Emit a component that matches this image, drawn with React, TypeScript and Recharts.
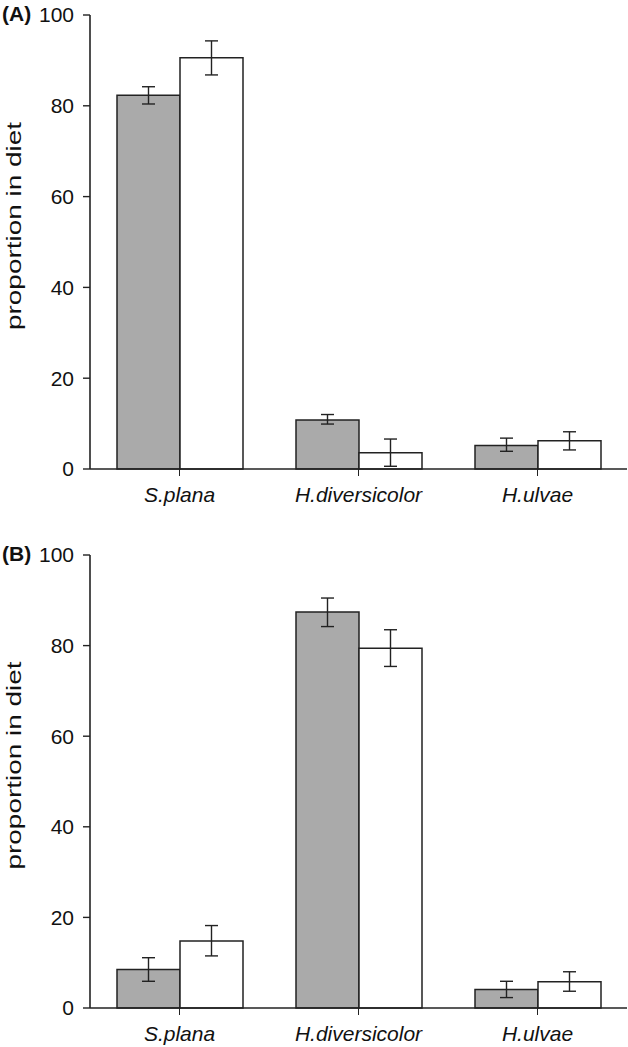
import { BarChart, Bar, XAxis, YAxis, ErrorBar } from 'recharts';

// species on the x axis
const categories = ['S.plana', 'H.diversicolor', 'H.ulvae'];
const yTicks = [0, 20, 40, 60, 80, 100];

// panel A: grey and white bars, error bars as [below, above]
const greyA = [82.3, 10.8, 5.2];
const greyErrA = [[1.9, 1.9], [0.9, 1.2], [1.3, 1.6]];
const whiteA = [90.6, 3.6, 6.2];
const whiteErrA = [[3.8, 3.7], [3.0, 3.0], [2.0, 2.0]];

// panel B
const greyB = [8.5, 87.4, 4.1];
const greyErrB = [[2.6, 2.6], [3.2, 3.1], [1.8, 1.8]];
const whiteB = [14.8, 79.4, 5.8];
const whiteErrB = [[3.3, 3.4], [4.0, 4.1], [2.1, 2.2]];

const FONT = '"Liberation Sans", Arial, sans-serif';
const INK = '#222';

const buildRows = (grey: number[], greyErr: number[][], white: number[], whiteErr: number[][]) =>
  categories.map((name, i) => ({
    name,
    grey: grey[i],
    greyErr: greyErr[i],
    white: white[i],
    whiteErr: whiteErr[i],
  }));

const YLabel = (props: any) => {
  const vb = props.viewBox || {};
  const cy = vb.y + vb.height / 2 - 16;
  const x = 20.5;
  return (
    <text
      x={x}
      y={cy}
      transform={`rotate(-90, ${x}, ${cy})`}
      textAnchor="middle"
      fontFamily={FONT}
      fontSize={20.5}
      fill="#111"
      textLength={208}
      lengthAdjust="spacingAndGlyphs"
    >
      proportion in diet
    </text>
  );
};

function Panel({ tag, rows, top, plotHeight }: { tag: string; rows: any[]; top: number; plotHeight: number }) {
  const height = 15 + plotHeight + 50;
  return (
    <div style={{ position: 'absolute', left: 0, top, width: 628, height }}>
      <BarChart
        width={628}
        height={height}
        data={rows}
        margin={{ top: 15, right: 1, left: 0, bottom: 0 }}
        barCategoryGap={27}
        barGap={0}
      >
        <XAxis
          dataKey="name"
          height={50}
          axisLine={{ stroke: INK, strokeWidth: 1.6 }}
          tickLine={{ stroke: INK, strokeWidth: 1 }}
          tickSize={7}
          tickMargin={11}
          tick={{ fill: '#111', fontSize: 21, fontStyle: 'italic', fontFamily: FONT }}
        />
        <YAxis
          width={90}
          domain={[0, 100]}
          ticks={yTicks}
          interval={0}
          axisLine={{ stroke: INK, strokeWidth: 1.6 }}
          tickLine={{ stroke: INK, strokeWidth: 1.4 }}
          tickSize={7}
          tickMargin={9}
          tick={{ fill: '#111', fontSize: 21, fontFamily: FONT }}
          label={{ content: YLabel }}
        />
        <Bar dataKey="grey" fill="#aaaaaa" stroke={INK} strokeWidth={1.5} isAnimationActive={false}>
          <ErrorBar dataKey="greyErr" width={6.5} stroke={INK} strokeWidth={1.4} />
        </Bar>
        <Bar dataKey="white" fill="#ffffff" stroke={INK} strokeWidth={1.5} isAnimationActive={false}>
          <ErrorBar dataKey="whiteErr" width={6.5} stroke={INK} strokeWidth={1.4} />
        </Bar>
      </BarChart>
      <div
        style={{
          position: 'absolute',
          left: 2,
          top: 0,
          fontFamily: FONT,
          fontWeight: 'bold',
          fontSize: 21,
          lineHeight: '28px',
          color: '#111',
        }}
      >
        {tag}
      </div>
    </div>
  );
}

export default function App() {
  const rowsA = buildRows(greyA, greyErrA, whiteA, whiteErrA);
  const rowsB = buildRows(greyB, greyErrB, whiteB, whiteErrB);
  return (
    <div style={{ position: 'absolute', left: 0, top: 0, width: 628, height: 1047, background: '#fff' }}>
      <Panel tag="(A)" rows={rowsA} top={0} plotHeight={454} />
      <Panel tag="(B)" rows={rowsB} top={540} plotHeight={453} />
    </div>
  );
}
